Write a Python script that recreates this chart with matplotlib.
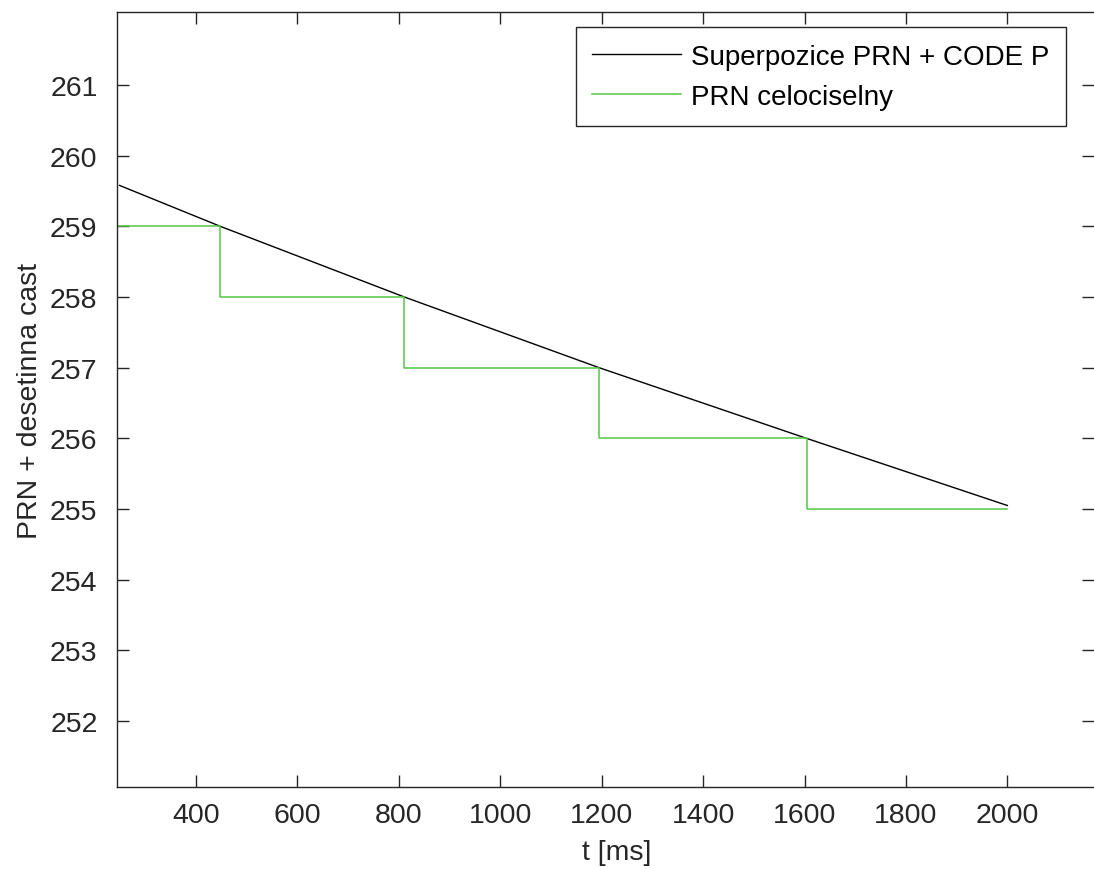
import numpy as np
import matplotlib
matplotlib.use("Agg")
import matplotlib.pyplot as plt

plt.rcParams['font.family'] = ['Liberation Sans', 'DejaVu Sans']

# black curve
t_sup = [249, 448, 811, 1195, 1604, 2000]
v_sup = [259.58, 259.0, 258.0, 257.0, 256.0, 255.05]

# green steps (integer part)
t_prn = [244, 448, 811, 1195, 1604, 2000]
v_prn = [259, 258, 257, 256, 255, 255]

xticks = [400, 600, 800, 1000, 1200, 1400, 1600, 1800, 2000]
yticks = [252, 253, 254, 255, 256, 257, 258, 259, 260, 261]

fig = plt.figure(figsize=(10.94, 8.70), dpi=100)
W, H = 1094, 870
ax = fig.add_axes([117 / W, 1 - 787.7 / H, (1093.5 - 117) / W, (787.7 - 13.3) / H])

ax.plot(t_sup, v_sup, color='black', lw=1.0, label='Superpozice PRN + CODE P')
ax.plot(t_prn, v_prn, color='#55c845', lw=1.1, drawstyle='steps-post', label='PRN celociselny')

ax.set_xlim(244, 2170)
ax.set_ylim(251.07, 262.03)
ax.set_xticks(xticks)
ax.set_yticks(yticks)
ax.tick_params(direction='in', length=8.5, width=1.0, labelsize=20.5, top=True, right=True,
               colors='#262626')
ax.tick_params(axis='x', pad=11)
ax.tick_params(axis='y', pad=14)
for s in ax.spines.values():
    s.set_linewidth(1.0)
    s.set_color('#262626')
ax.spines['right'].set_visible(False)

ax.set_xlabel('t [ms]', fontsize=20.5, color='#262626')
ax.set_ylabel('PRN + desetinna cast', fontsize=20.5, color='#262626', labelpad=5)
# plot area was cut on the right in the original, label centred on the full width
ax.xaxis.set_label_coords((617 - 117) / (1093.5 - 117), -0.067)

leg = ax.legend(loc='upper right', bbox_to_anchor=(0.9718, 0.981), borderaxespad=0,
                fontsize=20, handlelength=3.2, handletextpad=0.35, labelspacing=0.5,
                borderpad=0.6, fancybox=False, framealpha=1, edgecolor='#262626')
leg.get_frame().set_linewidth(1.0)

fig.savefig('out.png', dpi=100)
